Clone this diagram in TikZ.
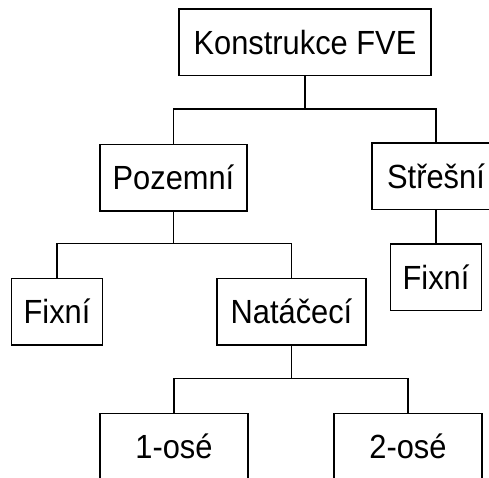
\documentclass[tikz,border=0pt]{standalone}
\usepackage{fontspec}
\setmainfont{Liberation Sans}
\newfontfamily\boxfont[FakeStretch=0.92]{Liberation Sans}
\tikzset{box/.style={draw, line width=1.5pt, minimum height=66.5pt, inner xsep=12pt, text height=24pt, text depth=0pt, font=\boxfont\fontsize{33.5}{38}\selectfont},
         link/.style={line width=1.5pt}}
\begin{document}
\begin{tikzpicture}[x=1pt,y=-1pt]
             \clip (0,0) rectangle (489,477);
             \node [box, minimum width=252pt] (konstrukce) at (305,42) {Konstrukce FVE};
             \node [box, minimum width=147pt] (pozemni) at (173.5,177.5) {Pozemní};
             \node [box, minimum width=128pt] (stresni) at (436,176) {Střešní};
             \node [box, minimum width=90pt] (fixni1) at (57,311.5) {Fixní};
             \node [box, minimum width=149pt] (natacec) at (291.5,311.5) {Natáčecí};
             \node [box, minimum width=89pt] (fixni2) at (436,277) {Fixní};
             \node [box, minimum width=148pt] (osa1) at (174,446.5) {1-osé};
             \node [box, minimum width=148pt] (osa2) at (408,446.5) {2-osé};
             % spojnice
             \draw [link] (konstrukce.south) -- ++(0,33) -| (pozemni.north);
             \draw [link] (konstrukce.south) -- ++(0,33) -| (stresni.north);
             \draw [link] (pozemni.south) -- ++(0,32) -| (fixni1.north);
             \draw [link] (pozemni.south) -- ++(0,32) -| (natacec.north);
             \draw [link] (stresni.south) -- (fixni2.north);
             \draw [link] (natacec.south) -- ++(0,33) -| (osa1.north);
             \draw [link] (natacec.south) -- ++(0,33) -| (osa2.north);
        \end{tikzpicture}
\end{document}
